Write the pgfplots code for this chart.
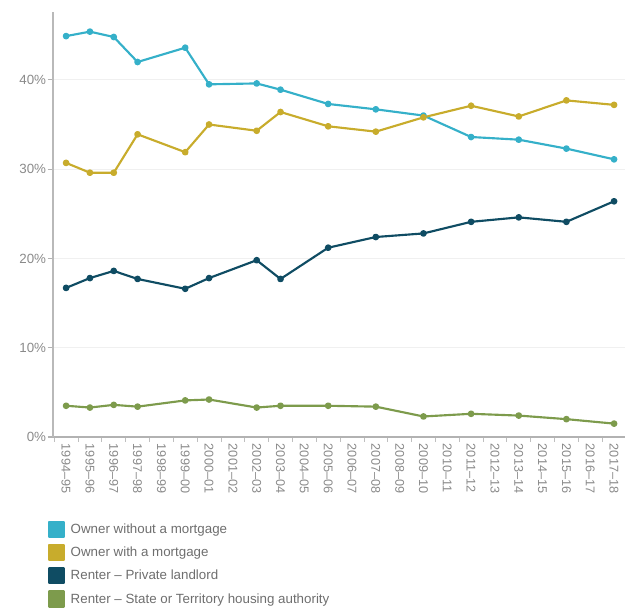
\documentclass[border=0pt]{standalone}
\usepackage{fontspec}
\setmainfont{Liberation Sans}
\usepackage{pgfplots}
\pgfplotsset{compat=1.18}
\definecolor{cOwn}{HTML}{35B0C9}
\definecolor{cMort}{HTML}{C8AC2C}
\definecolor{cPriv}{HTML}{0F4C63}
\definecolor{cState}{HTML}{7D9B4C}
\definecolor{txtgray}{HTML}{8A8A8A}
\definecolor{leggray}{HTML}{6E6E6E}
\begin{document}
\begin{tikzpicture}
\path[use as bounding box] (-39.75pt,-128.25pt) rectangle (430.5pt,327.75pt);
\begin{axis}[
  at={(0,0)}, anchor=south west,
  scale only axis, width=429pt, height=318.75pt,
  xmin=-0.55, xmax=23.46, ymin=0, ymax=47.6,
  axis x line*=bottom, axis y line*=left,
  x axis line style={draw=gray!60, line width=0.8pt, -},
  y axis line style={draw=gray!55, line width=2pt, -},
  xtick={0,...,23},
  xticklabels={1994--95,1995--96,1996--97,1997--98,1998--99,1999--00,2000--01,2001--02,2002--03,2003--04,2004--05,2005--06,2006--07,2007--08,2008--09,2009--10,2010--11,2011--12,2012--13,2013--14,2014--15,2015--16,2016--17,2017--18},
  x tick label style={rotate=-90, anchor=west, font=\fontsize{9.5}{10}\selectfont, text=txtgray, inner sep=1pt},
  major x tick style={draw=none},
  minor xtick={-0.5,0.5,...,23.5},
  minor x tick style={draw=gray!50, line width=0.6pt},
  ytick={0,10,20,30,40},
  yticklabels={0\%,10\%,20\%,30\%,40\%},
  y tick label style={font=\fontsize{10}{11}\selectfont, text=txtgray, inner sep=1pt},
  y tick style={draw=gray!60, line width=0.8pt},
  tick align=outside,
  major tick length=4pt, minor tick length=3.5pt,
  ymajorgrids, major grid style={draw=gray!12, line width=0.6pt},
  legend style={at={(0,0)}, anchor=north west, xshift=-7pt, yshift=-61pt, draw=none, fill=none,
    font=\fontsize{10}{11}\selectfont, text=leggray, row sep=4.5pt,
    nodes={inner sep=0pt, text height=8pt, text depth=2pt}},
  legend cell align=left,
  legend image code/.code={\fill[#1] (0pt,-5.6pt) rectangle (11.5pt,5.6pt);},
  /tikz/every odd column/.append style={column sep=4pt},
  every axis plot/.append style={line width=1.6pt, mark=*, mark size=1.7pt, line join=round},
]
\addplot[color=cOwn, mark options={fill=cOwn}] coordinates {
(0,44.9)(1,45.4)(2,44.8)(3,42.0)(5,43.6)(6,39.5)(8,39.6)(9,38.9)(11,37.3)(13,36.7)(15,36.0)(17,33.6)(19,33.3)(21,32.3)(23,31.1)};
\addlegendentry{Owner without a mortgage}
\addplot[color=cMort, mark options={fill=cMort}] coordinates {
(0,30.7)(1,29.6)(2,29.6)(3,33.9)(5,31.9)(6,35.0)(8,34.3)(9,36.4)(11,34.8)(13,34.2)(15,35.8)(17,37.1)(19,35.9)(21,37.7)(23,37.2)};
\addlegendentry{Owner with a mortgage}
\addplot[color=cPriv, mark options={fill=cPriv}] coordinates {
(0,16.7)(1,17.8)(2,18.6)(3,17.7)(5,16.6)(6,17.8)(8,19.8)(9,17.7)(11,21.2)(13,22.4)(15,22.8)(17,24.1)(19,24.6)(21,24.1)(23,26.4)};
\addlegendentry{Renter -- Private landlord}
\addplot[color=cState, mark options={fill=cState}] coordinates {
(0,3.5)(1,3.3)(2,3.6)(3,3.4)(5,4.1)(6,4.2)(8,3.3)(9,3.5)(11,3.5)(13,3.4)(15,2.3)(17,2.6)(19,2.4)(21,2.0)(23,1.5)};
\addlegendentry{Renter -- State or Territory housing authority}
\end{axis}
\end{tikzpicture}
\end{document}
